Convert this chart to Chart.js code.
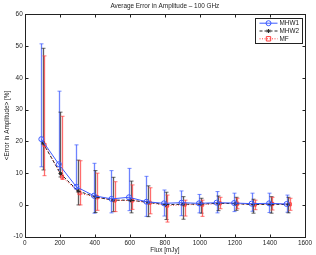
<!DOCTYPE html>
<html>
<head>
<meta charset="utf-8">
<script src="https://cdn.jsdelivr.net/npm/chart.js@4.4.1/dist/chart.umd.min.js"></script>
<style>
  html, body { margin: 0; padding: 0; background: #fff; }
</style>
</head>
<body>
<canvas id="errChart" width="316" height="255"></canvas>
<script>
// flux bins (mJy)
const flux = [100, 200, 300, 400, 500, 600, 700, 800, 900, 1000, 1100, 1200, 1300, 1400, 1500];

// MHW1
const mhw1Mean = [20.7, 12.8, 5.7, 2.9, 1.9, 2.4, 1.0, 0.5, 0.7, 0.5, 0.7, 0.6, 0.4, 0.5, 0.3];
const mhw1High = [50.7, 35.8, 18.9, 13.1, 10.8, 11.5, 9.0, 4.7, 4.4, 3.3, 4.2, 3.7, 3.7, 3.7, 3.1];
const mhw1Low  = [12.0, 11.0, 5.0, -2.6, -2.5, -1.8, -3.6, -3.5, -3.4, -2.5, -2.5, -2.1, -2.0, -2.4, -2.3];

// MHW2
const mhw2Mean = [19.5, 9.9, 4.4, 2.5, 1.5, 1.5, 0.8, 0.1, 0.2, 0.3, 0.5, 0.4, 0.1, 0.2, 0.1];
const mhw2High = [49.3, 29.2, 14.1, 10.8, 8.7, 7.5, 6.0, 4.0, 2.6, 2.1, 2.8, 2.4, 1.8, 2.6, 2.4];
const mhw2Low  = [11.0, 8.8, 0.0, -2.4, -2.1, -2.5, -3.7, -4.6, -4.5, -2.6, -1.8, -1.7, -2.6, -2.6, -2.5];

// MF
const mfMean = [18.9, 8.9, 3.7, 2.4, 1.4, 1.4, 0.7, -0.2, 0.1, 0.1, 0.5, 0.4, 0.1, 0.3, 0.2];
const mfHigh = [46.9, 27.9, 13.9, 10.0, 7.3, 6.3, 5.4, 3.1, 1.5, 1.5, 2.4, 2.1, 1.5, 2.4, 2.1];
const mfLow  = [9.2, 8.0, 0.0, -1.7, -2.1, -1.4, -2.8, -5.4, -3.5, -3.6, -1.2, -1.2, -1.5, -1.6, -1.7];

const xTicks = [0, 200, 400, 600, 800, 1000, 1200, 1400, 1600];
const yTicks = [-10, 0, 10, 20, 30, 40, 50, 60];

const FONT = 'Liberation Sans, Arial, Helvetica, sans-serif';

function series(label, mean, lo, hi, shift, color, dash, style, radius) {
  return {
    label: label,
    data: flux.map((f, i) => ({ x: f + shift, y: mean[i] })),
    errLow: lo,
    errHigh: hi,
    borderColor: color,
    backgroundColor: 'rgba(0,0,0,0)',
    borderWidth: 1,
    borderDash: dash,
    pointStyle: style,
    pointRadius: radius,
    pointBorderColor: color,
    pointBackgroundColor: 'rgba(0,0,0,0)',
    pointBorderWidth: 1,
    tension: 0
  };
}

// error bars drawn under the lines
const errorBars = {
  id: 'errorBars',
  beforeDatasetsDraw(chart) {
    const ctx = chart.ctx, xs = chart.scales.x, ys = chart.scales.y;
    ctx.save();
    chart.data.datasets.forEach(ds => {
      ds.data.forEach((p, i) => {
        const x = Math.round(xs.getPixelForValue(p.x)) + 0.5;
        const yh = ys.getPixelForValue(ds.errHigh[i]);
        const yl = ys.getPixelForValue(ds.errLow[i]);
        ctx.strokeStyle = ds.borderColor;
        ctx.globalAlpha = 0.15;
        ctx.lineWidth = 2.5;
        ctx.beginPath(); ctx.moveTo(x, yh); ctx.lineTo(x, yl); ctx.stroke();
        ctx.globalAlpha = 0.7;
        ctx.lineWidth = 1;
        ctx.beginPath();
        ctx.moveTo(x, yh); ctx.lineTo(x, yl);
        ctx.moveTo(x - 2, yh); ctx.lineTo(x + 2, yh);
        ctx.moveTo(x - 2, yl); ctx.lineTo(x + 2, yl);
        ctx.stroke();
      });
    });
    ctx.restore();
  }
};

// matlab style box with inward ticks, plus the legend
const frame = {
  id: 'frame',
  afterDraw(chart) {
    const ctx = chart.ctx, a = chart.chartArea, xs = chart.scales.x, ys = chart.scales.y;
    ctx.save();
    ctx.strokeStyle = '#222';
    ctx.lineWidth = 1;
    const L = Math.round(a.left) + 0.5, R = Math.round(a.right) + 0.5;
    const T = Math.round(a.top) + 0.5, B = Math.round(a.bottom) + 0.5;
    ctx.strokeRect(L, T, R - L, B - T);
    ctx.beginPath();
    xTicks.forEach(v => {
      const x = Math.round(xs.getPixelForValue(v)) + 0.5;
      ctx.moveTo(x, B); ctx.lineTo(x, B - 3);
      ctx.moveTo(x, T); ctx.lineTo(x, T + 3);
    });
    yTicks.forEach(v => {
      const y = Math.round(ys.getPixelForValue(v)) + 0.5;
      ctx.moveTo(L, y); ctx.lineTo(L + 3, y);
      ctx.moveTo(R, y); ctx.lineTo(R - 3, y);
    });
    ctx.stroke();

    // legend
    const bw = 47, bh = 25;
    const bx = Math.round(a.right - 3.5 - bw) + 0.5, by = Math.round(a.top + 4) + 0.5;
    ctx.fillStyle = '#fff';
    ctx.fillRect(bx, by, bw, bh);
    ctx.strokeStyle = '#222';
    ctx.strokeRect(bx, by, bw, bh);
    ctx.font = '6.4px ' + FONT;
    ctx.textBaseline = 'middle';
    chart.data.datasets.forEach((ds, i) => {
      const y = by + 4.7 + i * 7.8;
      ctx.strokeStyle = ds.borderColor;
      ctx.setLineDash(ds.borderDash);
      ctx.beginPath(); ctx.moveTo(bx + 4, y); ctx.lineTo(bx + 22, y); ctx.stroke();
      ctx.setLineDash([]);
      const cx = bx + 13, r = ds.pointRadius;
      ctx.beginPath();
      if (ds.pointStyle === 'circle') {
        ctx.arc(cx, y, r, 0, Math.PI * 2);
      } else if (ds.pointStyle === 'rect') {
        ctx.rect(cx - r, y - r, 2 * r, 2 * r);
      } else {
        ctx.moveTo(cx - r, y); ctx.lineTo(cx + r, y);
        ctx.moveTo(cx, y - r); ctx.lineTo(cx, y + r);
        ctx.moveTo(cx - r * 0.7, y - r * 0.7); ctx.lineTo(cx + r * 0.7, y + r * 0.7);
        ctx.moveTo(cx - r * 0.7, y + r * 0.7); ctx.lineTo(cx + r * 0.7, y - r * 0.7);
      }
      ctx.stroke();
      ctx.fillStyle = '#222';
      ctx.fillText(ds.label, bx + 24, y);
    });
    ctx.restore();
  }
};

new Chart(document.getElementById('errChart'), {
  type: 'line',
  data: {
    datasets: [
      series('MHW1', mhw1Mean, mhw1Low, mhw1High, -5, 'rgb(60,90,255)', [], 'circle', 2.5),
      series('MHW2', mhw2Mean, mhw2Low, mhw2High, 4, 'rgb(40,40,40)', [3, 2], 'star', 2),
      series('MF', mfMean, mfLow, mfHigh, 13, 'rgb(255,60,60)', [1, 1.5], 'rect', 2.2)
    ]
  },
  options: {
    responsive: false,
    animation: false,
    devicePixelRatio: 1,
    layout: { padding: { left: 0, right: 11, top: 0, bottom: 0 } },
    plugins: {
      legend: { display: false },
      tooltip: { enabled: false },
      title: {
        display: true,
        fullSize: false,
        text: 'Average Error in Amplitude \u2013 100 GHz',
        color: '#222',
        font: { family: FONT, size: 6.4, weight: 'normal' },
        padding: { top: 2.5, bottom: 4.1 }
      }
    },
    scales: {
      x: {
        type: 'linear',
        min: 0,
        max: 1600,
        afterFit(s) { s.height = 18.3; },
        afterBuildTicks(s) { s.ticks = xTicks.map(v => ({ value: v })); },
        grid: { display: false, drawTicks: false },
        border: { display: false },
        ticks: {
          color: '#222', padding: 2.5, maxRotation: 0,
          font: { family: FONT, size: 6.4 },
          callback: v => String(v)
        },
        title: {
          display: true,
          text: 'Flux [mJy]',
          color: '#222',
          font: { family: FONT, size: 6.4 },
          padding: { top: 0, bottom: 1 }
        }
      },
      y: {
        type: 'linear',
        min: -10,
        max: 60,
        afterFit(s) { s.width = 24.7; },
        afterBuildTicks(s) { s.ticks = yTicks.map(v => ({ value: v })); },
        grid: { display: false, drawTicks: false },
        border: { display: false },
        ticks: {
          color: '#222', padding: 2,
          font: { family: FONT, size: 6.4 },
          callback: v => String(v)
        },
        title: {
          display: true,
          text: '<Error in Amplitude> [%]',
          color: '#222',
          font: { family: FONT, size: 6.4 },
          padding: { top: 3, bottom: 0 }
        }
      }
    }
  },
  plugins: [errorBars, frame]
});
</script>
</body>
</html>
